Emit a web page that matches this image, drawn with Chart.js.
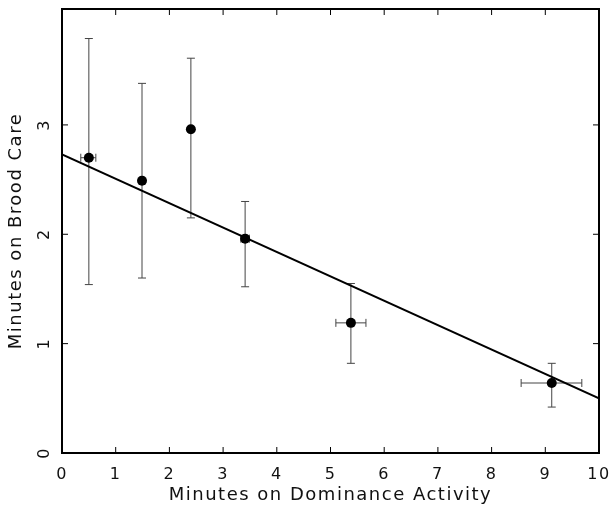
<!DOCTYPE html>
<html>
<head>
<meta charset="utf-8">
<script src="https://cdn.jsdelivr.net/npm/chart.js@4"></script>
<style>
  html, body { margin: 0; padding: 0; background: #fff; }
  #wrap { width: 610px; height: 517px; }
</style>
</head>
<body>
<div id="wrap"><canvas id="c" width="610" height="517"></canvas></div>
<script>
// ---------- DATOS ----------
const xVals  = [0.50, 1.49, 2.40, 3.41, 5.38, 9.12];
const yVals  = [2.70, 2.49, 2.96, 1.96, 1.19, 0.64];
const yLow   = [1.54, 1.60, 2.15, 1.52, 0.82, 0.42];
const yHigh  = [3.79, 3.38, 3.61, 2.30, 1.55, 0.82];
const xLow   = [0.35, 1.44, 2.36, 3.33, 5.10, 8.55];
const xHigh  = [0.63, 1.54, 2.44, 3.49, 5.66, 9.68];

const fitX = [0, 10];
const fitY = [2.73, 0.50];

const xTicks = [0, 1, 2, 3, 4, 5, 6, 7, 8, 9, 10];
const yTicks = [0, 1, 2, 3];

const FONT = "DejaVu Sans";

// ---------- PLUGIN: barras de error, marco y ticks ----------
const frame = {
  id: "frame",
  beforeLayout(chart) { chart.ctx.letterSpacing = "1.5px"; },
  beforeDraw(chart) { chart.ctx.letterSpacing = "1.5px"; },
  beforeDatasetsDraw(chart) {
    const { ctx, scales: { x, y } } = chart;
    ctx.save();
    ctx.strokeStyle = "#444";
    ctx.lineWidth = 1;
    const cap = 4;
    xVals.forEach((xv, i) => {
      const px = x.getPixelForValue(xv);
      const py = y.getPixelForValue(yVals[i]);
      const t = y.getPixelForValue(yHigh[i]);
      const b = y.getPixelForValue(yLow[i]);
      const l = x.getPixelForValue(xLow[i]);
      const r = x.getPixelForValue(xHigh[i]);
      ctx.beginPath();
      ctx.moveTo(px, t); ctx.lineTo(px, b);
      ctx.moveTo(px - cap, t); ctx.lineTo(px + cap, t);
      ctx.moveTo(px - cap, b); ctx.lineTo(px + cap, b);
      ctx.moveTo(l, py); ctx.lineTo(r, py);
      ctx.moveTo(l, py - cap); ctx.lineTo(l, py + cap);
      ctx.moveTo(r, py - cap); ctx.lineTo(r, py + cap);
      ctx.stroke();
    });
    ctx.restore();
  },
  afterDraw(chart) {
    const { ctx, chartArea: a, scales: { x, y } } = chart;
    ctx.save();
    ctx.strokeStyle = "#000";
    ctx.lineWidth = 2;
    ctx.strokeRect(a.left, a.top, a.right - a.left, a.bottom - a.top);
    ctx.lineWidth = 1;
    const tl = 6;
    ctx.beginPath();
    xTicks.forEach(v => {
      const px = x.getPixelForValue(v);
      ctx.moveTo(px, a.bottom); ctx.lineTo(px, a.bottom - tl);
      ctx.moveTo(px, a.top); ctx.lineTo(px, a.top + tl);
    });
    yTicks.forEach(v => {
      const py = y.getPixelForValue(v);
      ctx.moveTo(a.left, py); ctx.lineTo(a.left + tl, py);
      ctx.moveTo(a.right, py); ctx.lineTo(a.right - tl, py);
    });
    ctx.stroke();

    // etiquetas del eje Y, giradas
    ctx.fillStyle = "#111";
    ctx.font = "16px '" + FONT + "'";
    ctx.textAlign = "center";
    ctx.textBaseline = "middle";
    yTicks.forEach(v => {
      const py = y.getPixelForValue(v);
      ctx.save();
      ctx.translate(45, py);
      ctx.rotate(-Math.PI / 2);
      ctx.fillText(String(v), 0, 0);
      ctx.restore();
    });
    ctx.restore();
  }
};

// ---------- GRAFICO ----------
const points = xVals.map((v, i) => ({ x: v, y: yVals[i] }));
const fitLine = fitX.map((v, i) => ({ x: v, y: fitY[i] }));

new Chart(document.getElementById("c"), {
  type: "scatter",
  data: {
    datasets: [
      {
        data: fitLine,
        showLine: true,
        borderColor: "#000",
        borderWidth: 2,
        pointRadius: 0,
        fill: false
      },
      {
        data: points,
        pointRadius: 5,
        pointBackgroundColor: "#000",
        pointBorderColor: "#000",
        pointBorderWidth: 0
      }
    ]
  },
  options: {
    responsive: false,
    animation: false,
    devicePixelRatio: 1,
    layout: { padding: { top: 9, right: 11, left: 0, bottom: 0 } },
    plugins: { legend: { display: false }, tooltip: { enabled: false } },
    scales: {
      x: {
        type: "linear",
        min: 0,
        max: 10,
        afterFit(s) { s.height = 64; s.paddingLeft = 0; s.paddingRight = 0; },
        afterBuildTicks(s) { s.ticks = xTicks.map(v => ({ value: v })); },
        grid: { display: false, drawTicks: false },
        border: { display: false },
        ticks: {
          padding: 12,
          color: "#111",
          font: { family: FONT, size: 16 },
          maxRotation: 0
        },
        title: {
          display: true,
          text: "Minutes on Dominance Activity",
          color: "#111",
          font: { family: FONT, size: 18 },
          padding: { top: 0, bottom: 11 }
        }
      },
      y: {
        type: "linear",
        min: 0,
        max: 4.06,
        afterFit(s) { s.width = 62; s.paddingTop = 0; s.paddingBottom = 0; },
        afterBuildTicks(s) { s.ticks = yTicks.map(v => ({ value: v })); },
        grid: { display: false, drawTicks: false },
        border: { display: false },
        ticks: { display: false },
        title: {
          display: true,
          text: "Minutes on Brood Care",
          color: "#111",
          font: { family: FONT, size: 18 },
          padding: { top: 6, bottom: 0 }
        }
      }
    }
  },
  plugins: [frame]
});
</script>
</body>
</html>
